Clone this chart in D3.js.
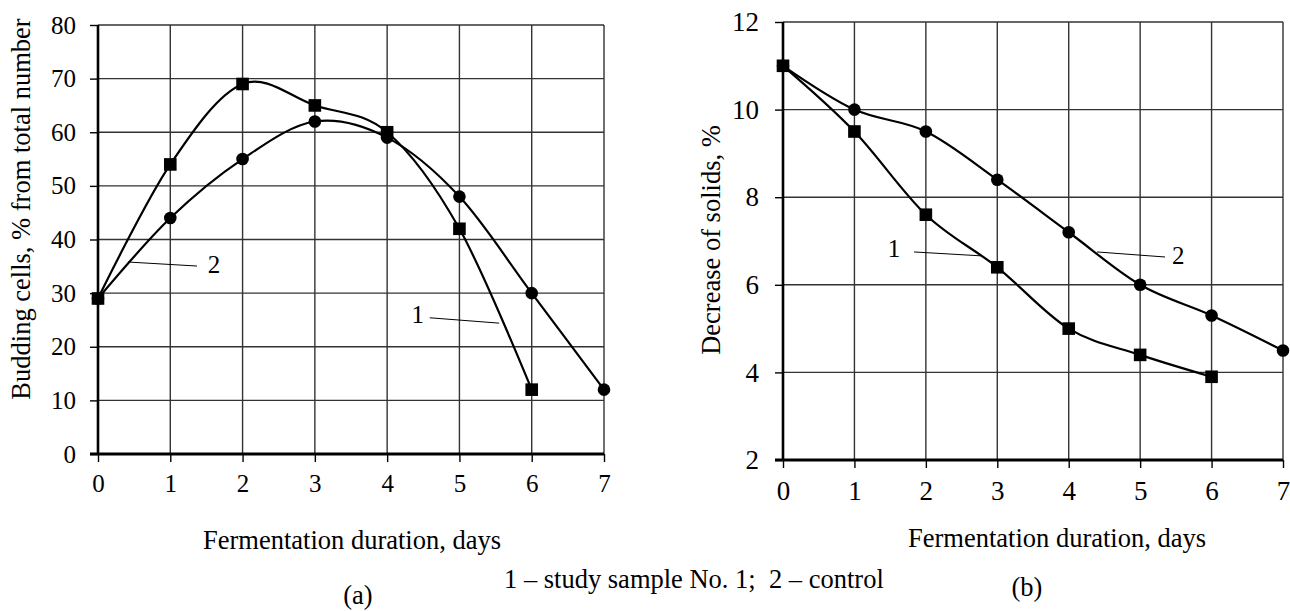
<!DOCTYPE html>
<html>
<head>
<meta charset="utf-8">
<script src="https://cdn.jsdelivr.net/npm/d3@7"></script>
<style>
  body { margin: 0; background: #fff; }
  text { font-family: "Liberation Serif", "Times New Roman", serif; fill: #000; }
</style>
</head>
<body>
<div id="chart"></div>
<script>
// data
const days = [0, 1, 2, 3, 4, 5, 6, 7];
const dayTicks = [0, 1, 2, 3, 4, 5, 6, 7];

const buddingTicks = [0, 10, 20, 30, 40, 50, 60, 70, 80];
const buddingSample = [29, 54, 69, 65, 60, 42, 12];          // curve 1, days 0..6
const buddingControl = [29, 44, 55, 62, 59, 48, 30, 12];     // curve 2, days 0..7

const solidsTicks = [2, 4, 6, 8, 10, 12];
const solidsSample = [11, 9.5, 7.6, 6.4, 5.0, 4.4, 3.9];
const solidsControl = [11, 10, 9.5, 8.4, 7.2, 6.0, 5.3, 4.5];

const legendText = "1 – study sample No. 1;  2 – control";

const svg = d3.select("#chart")
  .append("svg")
  .attr("width", 1290)
  .attr("height", 611);

function drawPanel(cfg) {
  const x = d3.scaleLinear().domain([0, 7]).range(cfg.xRange);
  const y = d3.scaleLinear().domain(cfg.yDomain).range(cfg.yRange);
  const g = svg.append("g");

  // grid
  g.append("g")
    .selectAll("line")
    .data(cfg.yTicks)
    .join("line")
    .attr("x1", x(0)).attr("x2", x(7))
    .attr("y1", d => y(d)).attr("y2", d => y(d))
    .attr("stroke", "#333").attr("stroke-width", 1.4);
  g.append("g")
    .selectAll("line")
    .data(dayTicks)
    .join("line")
    .attr("x1", d => x(d)).attr("x2", d => x(d))
    .attr("y1", y(cfg.yDomain[0])).attr("y2", y(cfg.yDomain[1]))
    .attr("stroke", "#333").attr("stroke-width", 1.4);

  // axes
  const yAxis = g.append("g")
    .attr("transform", `translate(${x(0)},0)`)
    .call(d3.axisLeft(y).tickValues(cfg.yTicks).tickFormat(d3.format("d"))
      .tickSize(8).tickPadding(cfg.yPad));
  const xAxis = g.append("g")
    .attr("transform", `translate(0,${y(cfg.yDomain[0])})`)
    .call(d3.axisBottom(x).tickValues(dayTicks).tickFormat(d3.format("d")).tickSize(8));
  [yAxis, xAxis].forEach(a => {
    a.attr("font-family", "Liberation Serif").attr("font-size", cfg.tickFont);
    a.select(".domain").remove();
    a.selectAll(".tick line").attr("stroke", "#000").attr("stroke-width", 1.4);
  });
  xAxis.selectAll(".tick text").attr("dy", null).attr("y", cfg.xLabelY);

  // thick axis lines
  g.append("line")
    .attr("x1", x(0)).attr("x2", x(0))
    .attr("y1", y(cfg.yDomain[0]) + 1).attr("y2", y(cfg.yDomain[1]))
    .attr("stroke", "#000").attr("stroke-width", 2.6);
  g.append("line")
    .attr("x1", x(0) - 8).attr("x2", x(7))
    .attr("y1", y(cfg.yDomain[0])).attr("y2", y(cfg.yDomain[0]))
    .attr("stroke", "#000").attr("stroke-width", 2.8);

  const line = d3.line()
    .x((d, i) => x(days[i]))
    .y(d => y(d))
    .curve(d3.curveCardinal.tension(0));

  // curves
  [cfg.sample, cfg.control].forEach(s => {
    g.append("path")
      .datum(s)
      .attr("d", line)
      .attr("fill", "none")
      .attr("stroke", "#000")
      .attr("stroke-width", 2.2);
  });

  // markers
  g.append("g")
    .selectAll("circle")
    .data(cfg.control)
    .join("circle")
    .attr("cx", (d, i) => x(days[i]))
    .attr("cy", d => y(d))
    .attr("r", 6.3)
    .attr("fill", "#000");
  g.append("g")
    .selectAll("rect")
    .data(cfg.sample)
    .join("rect")
    .attr("x", (d, i) => x(days[i]) - 6.3)
    .attr("y", d => y(d) - 6.3)
    .attr("width", 12.6)
    .attr("height", 12.6)
    .attr("fill", "#000");

  // curve labels with leader lines
  cfg.notes.forEach(n => {
    g.append("line")
      .attr("x1", x(n.from[0])).attr("y1", y(n.from[1]))
      .attr("x2", x(n.to[0])).attr("y2", y(n.to[1]))
      .attr("stroke", "#000").attr("stroke-width", 1);
    g.append("text")
      .attr("x", x(n.at[0])).attr("y", y(n.at[1]))
      .attr("text-anchor", n.anchor)
      .style("font-size", "25px")
      .text(n.label);
  });

  // y title
  g.append("text")
    .attr("transform", `translate(${cfg.yTitle[0]},${cfg.yTitle[1]}) rotate(-90)`)
    .attr("text-anchor", "middle")
    .style("font-size", "26.5px")
    .text(cfg.yLabel);

  // x title
  g.append("text")
    .attr("x", cfg.xTitle[0]).attr("y", cfg.xTitle[1])
    .attr("text-anchor", "middle")
    .style("font-size", "26.5px")
    .text("Fermentation duration, days");

  g.append("text")
    .attr("x", cfg.tag[0]).attr("y", cfg.tag[1])
    .attr("text-anchor", "middle")
    .style("font-size", "26.5px")
    .text(cfg.tagText);
}

drawPanel({
  xRange: [98, 604], yRange: [454, 25], yDomain: [0, 80],
  yTicks: buddingTicks, yPad: 14, tickFont: 25, xLabelY: 38,
  sample: buddingSample, control: buddingControl,
  notes: [
    { label: "2", from: [0.415, 35.8], to: [1.37, 35.05], at: [1.52, 33.7], anchor: "start" },
    { label: "1", from: [4.59, 25.4], to: [5.55, 24.4], at: [4.51, 24.4], anchor: "end" }
  ],
  yLabel: "Budding cells, % from total number", yTitle: [30, 209],
  xTitle: [352, 549], tag: [358, 604], tagText: "(a)"
});

drawPanel({
  xRange: [783, 1283], yRange: [460, 22], yDomain: [2, 12],
  yTicks: solidsTicks, yPad: 16, tickFont: 27, xLabelY: 40,
  sample: solidsSample, control: solidsControl,
  notes: [
    { label: "1", from: [1.834, 6.75], to: [2.786, 6.66], at: [1.64, 6.63], anchor: "end" },
    { label: "2", from: [4.396, 6.75], to: [5.348, 6.635], at: [5.446, 6.475], anchor: "start" }
  ],
  yLabel: "Decrease of solids, %", yTitle: [720, 240],
  xTitle: [1057, 547], tag: [1027, 596], tagText: "(b)"
});

svg.append("text")
  .attr("x", 504).attr("y", 588)
  .style("font-size", "26.5px")
  .style("white-space", "pre")
  .text(legendText);
</script>
</body>
</html>
